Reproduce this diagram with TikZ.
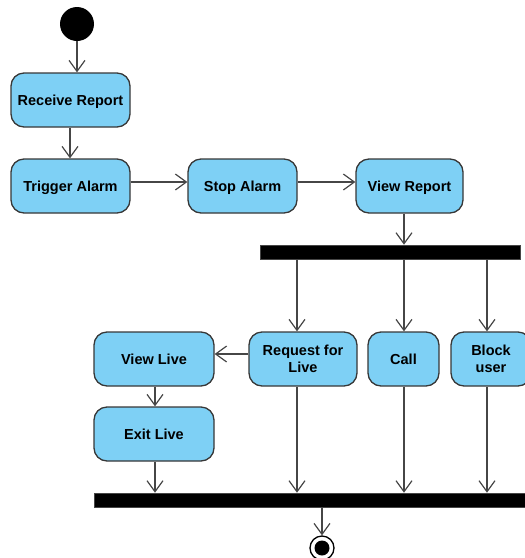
\documentclass[tikz,border=0pt]{standalone}
\usepackage{fontspec}
\setmainfont{Liberation Sans}
\usetikzlibrary{arrows.meta}
\definecolor{actfill}{RGB}{126,208,245}
\definecolor{actline}{RGB}{55,55,55}
\definecolor{flowline}{RGB}{70,70,70}
\begin{document}
\begin{tikzpicture}[x=1pt,y=-1pt,
  action/.style={draw=actline, line width=1.3pt, fill=actfill, rounded corners=13pt,
    minimum height=54pt, align=center, inner sep=2pt, text depth=0pt,
    font=\fontsize{14.5}{17}\selectfont\bfseries},
  bar/.style={draw=flowline, line width=0.6pt, fill=black, inner sep=0pt, minimum height=14pt},
  flow/.style={draw=flowline, line width=1.2pt, -{Straight Barb[length=11pt,width=16pt]}},
  plain/.style={draw=flowline, line width=1.2pt}]
\clip (0,0) rectangle (525,558);

% initial node
\node[circle, fill=black, minimum size=34pt, inner sep=0pt] (start) at (77,24) {};

% actions
\node[action, minimum width=119pt] (recv) at (70.5,100) {Receive Report};
\node[action, minimum width=119pt] (trig) at (70.5,186) {Trigger Alarm};
\node[action, minimum width=109pt] (stop) at (242.5,186) {Stop Alarm};
\node[action, minimum width=107pt] (vrep) at (409.5,186) {View Report};

% fork
\node[bar, minimum width=260pt] (fork) at (390,252) {};

\node[action, minimum width=108pt] (req) at (303,359) {Request for\\Live};
\node[action, minimum width=71pt] (call) at (403.5,359) {Call};
\node[action, minimum width=80pt] (block) at (491,359) {Block\\user};
\node[action, minimum width=120pt] (vlive) at (154,359) {View Live};
\node[action, minimum width=120pt] (xlive) at (154,434) {Exit Live};

% join
\node[bar, minimum width=441pt] (join) at (314.5,500) {};

% final node
\node[circle, draw=black, line width=1.3pt, minimum size=24pt, inner sep=0pt] (end) at (322,548) {};
\fill (end.center) circle (7.5pt);

% control flows
\draw[flow] (start) -- (recv.north -| start);
\draw[flow] ([xshift=-0.5pt]recv.south) -- ([xshift=-0.5pt]trig.north);
\draw[flow] ([yshift=4pt]trig.east) -- ([yshift=4pt]stop.west);
\draw[flow] ([yshift=4pt]stop.east) -- ([yshift=4pt]vrep.west);
\draw[flow] ([xshift=-5.5pt]vrep.south) -- ([xshift=-5.5pt]vrep.south |- fork.north);

\draw[flow] ([xshift=-6pt]req.north |- fork.south) -- ([xshift=-6pt]req.north);
\draw[flow] ([xshift=0.5pt]call.north |- fork.south) -- ([xshift=0.5pt]call.north);
\draw[flow] ([xshift=-4pt]block.north |- fork.south) -- ([xshift=-4pt]block.north);

\draw[flow] ([yshift=5pt]req.west) -- ([yshift=5pt]vlive.east);
\draw[flow] ([xshift=1pt]vlive.south) -- ([xshift=1pt]xlive.north);

\draw[flow] ([xshift=1pt]xlive.south) -- ([xshift=1pt]xlive.south |- join.north);
\draw[flow] ([xshift=-6pt]req.south) -- ([xshift=-6pt]req.south |- join.north);
\draw[flow] ([xshift=0.5pt]call.south) -- ([xshift=0.5pt]call.south |- join.north);
\draw[flow] ([xshift=-4pt]block.south) -- ([xshift=-4pt]block.south |- join.north);

\draw[flow] (join.south -| end) -- (end.north);
\end{tikzpicture}
\end{document}
